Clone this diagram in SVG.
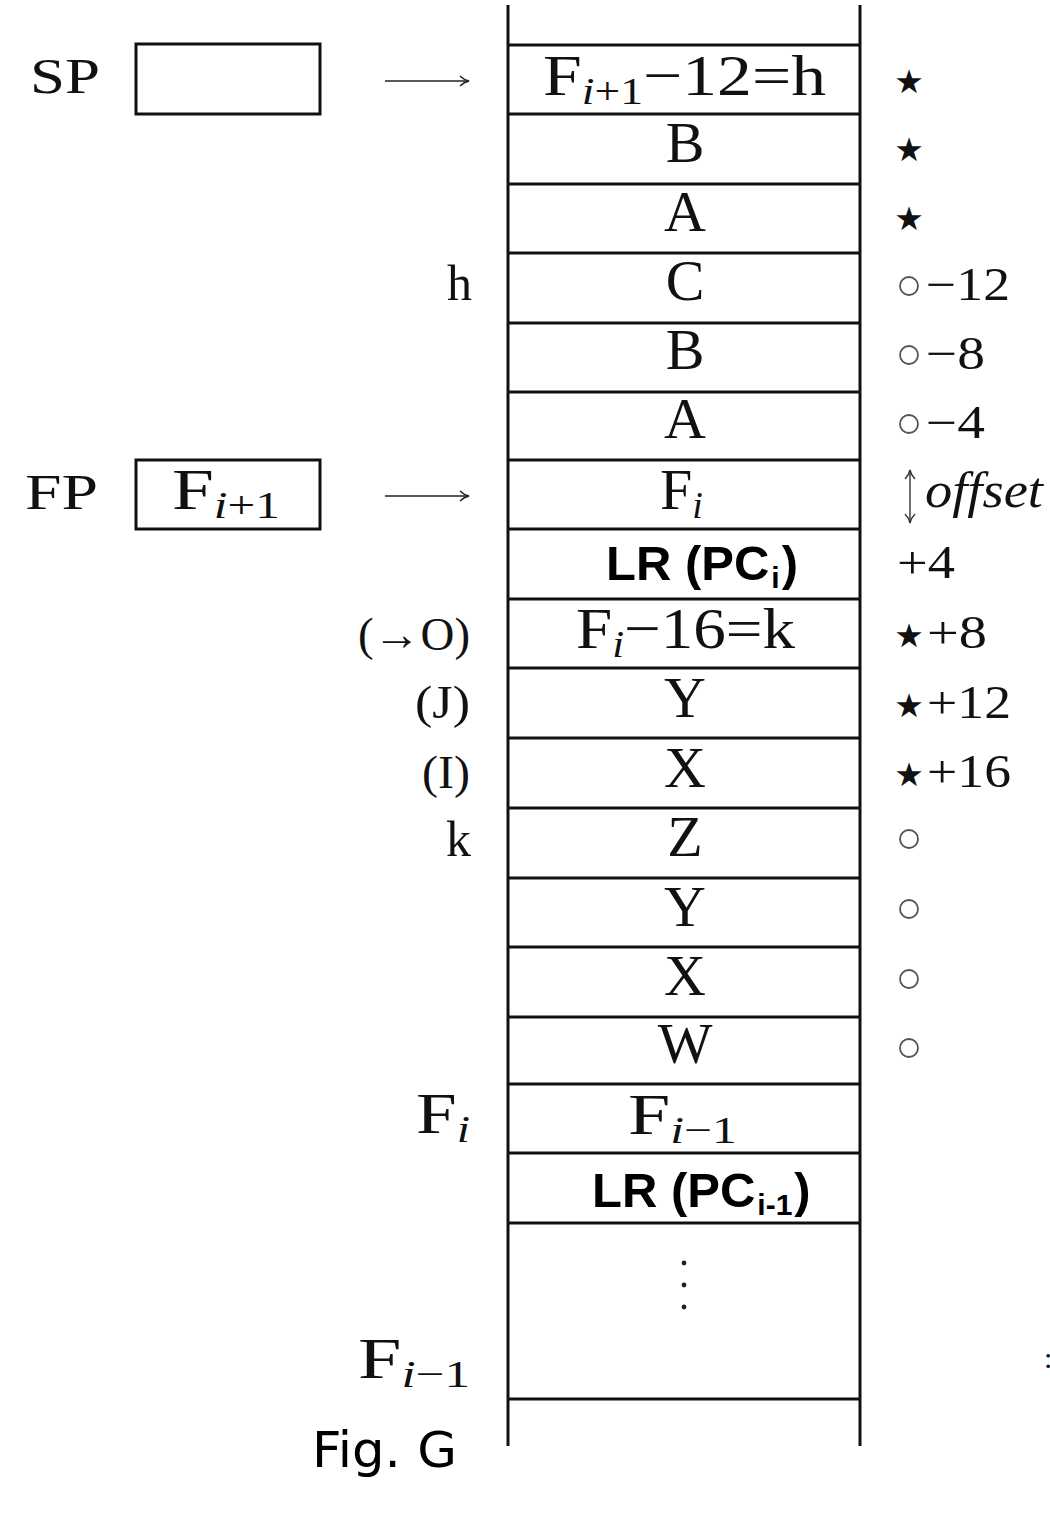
<svg xmlns="http://www.w3.org/2000/svg" width="1050" height="1524" viewBox="0 0 1050 1524">
<defs>
<style>
.bg{fill:#fff}
.ln{stroke:#111;stroke-width:3;fill:none}
.thin{stroke:#222;stroke-width:1.6;fill:none}
.cm{font-family:"Liberation Serif","Times New Roman",serif;fill:#111}
.cell{font-size:58px}
.lab{font-size:50px}
.rl{font-size:46px}
.sml{font-size:46px}
.sub{font-size:38px}
.it{font-style:italic}
.lr{font-family:"Liberation Sans",Arial,sans-serif;font-weight:bold;font-size:49px;fill:#000}
.lrsub{font-size:30px}
.star{font-family:"DejaVu Sans",sans-serif;font-size:33px;fill:#111;text-anchor:middle}
.circ{stroke:#555;stroke-width:1.8;fill:none}
.dot{fill:#222}
.fig{font-family:"DejaVu Sans",sans-serif;font-size:50px;fill:#000}
</style>
<marker id="ah" viewBox="0 0 12 12" refX="11" refY="6" markerWidth="12" markerHeight="12" markerUnits="userSpaceOnUse" orient="auto">
<path d="M2,1 Q6,5 11,6 Q6,7 2,11" fill="none" stroke="#222" stroke-width="1.5"/>
</marker>
<marker id="ahs" viewBox="0 0 12 12" refX="11" refY="6" markerWidth="12" markerHeight="12" markerUnits="userSpaceOnUse" orient="auto-start-reverse">
<path d="M2,1 Q6,5 11,6 Q6,7 2,11" fill="none" stroke="#333" stroke-width="1.4"/>
</marker>
</defs>
<rect class="bg" x="0" y="0" width="1050" height="1524"/>

<g id="registers">
<g id="sp">
<text class="cm lab" x="30" y="93" textLength="70" lengthAdjust="spacingAndGlyphs" font-size="56">SP</text>
<rect class="ln" x="136" y="44" width="184" height="70"/>
</g>
<g id="fp">
<text class="cm lab" x="25" y="509" textLength="73" lengthAdjust="spacingAndGlyphs" font-size="56">FP</text>
<rect class="ln" x="136" y="460" width="184" height="69"/>
<text class="cm cell" x="172" y="509" textLength="108" lengthAdjust="spacingAndGlyphs">F<tspan class="sub it" dy="9">i</tspan><tspan class="sub">+1</tspan></text>
</g>
</g>

<g id="stack">
<line class="ln" x1="508" y1="5" x2="508" y2="1446"/>
<line class="ln" x1="860" y1="5" x2="860" y2="1446"/>
<g id="row-h"><line class="ln" x1="508" y1="45" x2="860" y2="45"/>
<text class="cm cell" x="543" y="95" textLength="283" lengthAdjust="spacingAndGlyphs">F<tspan class="sub it" dy="9">i</tspan><tspan class="sub">+1</tspan><tspan dy="-9">−12=h</tspan></text></g>
<g id="row-b1"><line class="ln" x1="508" y1="114" x2="860" y2="114"/>
<text class="cm cell" x="685" y="162" text-anchor="middle">B</text></g>
<g id="row-a1"><line class="ln" x1="508" y1="184" x2="860" y2="184"/>
<text class="cm cell" x="685" y="231" text-anchor="middle">A</text></g>
<g id="row-c"><line class="ln" x1="508" y1="253" x2="860" y2="253"/>
<text class="cm cell" x="685" y="300" text-anchor="middle">C</text></g>
<g id="row-b2"><line class="ln" x1="508" y1="323" x2="860" y2="323"/>
<text class="cm cell" x="685" y="369" text-anchor="middle">B</text></g>
<g id="row-a2"><line class="ln" x1="508" y1="392" x2="860" y2="392"/>
<text class="cm cell" x="685" y="438" text-anchor="middle">A</text></g>
<g id="row-fi"><line class="ln" x1="508" y1="460" x2="860" y2="460"/>
<text class="cm cell" x="660" y="509">F<tspan class="sub it" dy="9">i</tspan></text></g>
<g id="row-lr"><line class="ln" x1="508" y1="529" x2="860" y2="529"/>
<text class="lr" x="606" y="580">LR (PC<tspan class="lrsub" dx="2" dy="8">i</tspan><tspan dx="2" dy="-8">)</tspan></text></g>
<g id="row-k"><line class="ln" x1="508" y1="599" x2="860" y2="599"/>
<text class="cm cell" x="576" y="648" textLength="219" lengthAdjust="spacingAndGlyphs">F<tspan class="sub it" dy="9">i</tspan><tspan dy="-9">−16=k</tspan></text></g>
<g id="row-y1"><line class="ln" x1="508" y1="668" x2="860" y2="668"/>
<text class="cm cell" x="685" y="717" text-anchor="middle">Y</text></g>
<g id="row-x1"><line class="ln" x1="508" y1="738" x2="860" y2="738"/>
<text class="cm cell" x="685" y="787" text-anchor="middle">X</text></g>
<g id="row-z"><line class="ln" x1="508" y1="808" x2="860" y2="808"/>
<text class="cm cell" x="685" y="856" text-anchor="middle">Z</text></g>
<g id="row-y2"><line class="ln" x1="508" y1="878" x2="860" y2="878"/>
<text class="cm cell" x="685" y="926" text-anchor="middle">Y</text></g>
<g id="row-x2"><line class="ln" x1="508" y1="947" x2="860" y2="947"/>
<text class="cm cell" x="685" y="995" text-anchor="middle">X</text></g>
<g id="row-w"><line class="ln" x1="508" y1="1017" x2="860" y2="1017"/>
<text class="cm cell" x="685" y="1063" text-anchor="middle">W</text></g>
<g id="row-fim1"><line class="ln" x1="508" y1="1084" x2="860" y2="1084"/>
<text class="cm cell" x="628" y="1134" textLength="109" lengthAdjust="spacingAndGlyphs">F<tspan class="sub it" dy="9">i</tspan><tspan class="sub">−1</tspan></text></g>
<g id="row-lr2"><line class="ln" x1="508" y1="1153" x2="860" y2="1153"/>
<text class="lr" x="592" y="1207">LR (PC<tspan class="lrsub" dx="2" dy="8">i-1</tspan><tspan dx="2" dy="-8">)</tspan></text></g>
<g id="row-dots"><line class="ln" x1="508" y1="1223" x2="860" y2="1223"/>
<circle class="dot" cx="684" cy="1263" r="2.4"/>
<circle class="dot" cx="684" cy="1285" r="2.4"/>
<circle class="dot" cx="684" cy="1307" r="2.4"/></g>
<g id="row-end"><line class="ln" x1="508" y1="1399" x2="860" y2="1399"/></g>
</g>

<g id="connectors">
<line class="thin" x1="385" y1="81" x2="469" y2="81" marker-end="url(#ah)"/>
<line class="thin" x1="385" y1="496" x2="469" y2="496" marker-end="url(#ah)"/>
</g>

<g id="left-labels">
<text class="cm lab" x="472" y="300" text-anchor="end">h</text>
<text class="cm sml" x="470" y="650" text-anchor="end" textLength="112" lengthAdjust="spacingAndGlyphs">(→O)</text>
<text class="cm sml" x="470" y="718" text-anchor="end" textLength="55" lengthAdjust="spacingAndGlyphs">(J)</text>
<text class="cm sml" x="470" y="788" text-anchor="end" textLength="48" lengthAdjust="spacingAndGlyphs">(I)</text>
<text class="cm lab" x="471" y="856" text-anchor="end">k</text>
<text class="cm cell" x="416" y="1133" textLength="54" lengthAdjust="spacingAndGlyphs">F<tspan class="sub it" dy="9">i</tspan></text>
<text class="cm cell" x="358" y="1378" textLength="112" lengthAdjust="spacingAndGlyphs">F<tspan class="sub it" dy="9">i</tspan><tspan class="sub">−1</tspan></text>
</g>

<g id="right-labels">
<text class="star" x="909" y="93">★</text>
<text class="star" x="909" y="161">★</text>
<text class="star" x="909" y="230">★</text>
<circle class="circ" cx="909" cy="286" r="9"/>
<text class="cm rl" x="926" y="300" textLength="84" lengthAdjust="spacingAndGlyphs">−12</text>
<circle class="circ" cx="909" cy="355" r="9"/>
<text class="cm rl" x="926" y="369" textLength="59" lengthAdjust="spacingAndGlyphs">−8</text>
<circle class="circ" cx="909" cy="424" r="9"/>
<text class="cm rl" x="926" y="438" textLength="59" lengthAdjust="spacingAndGlyphs">−4</text>
<line x1="910" y1="470" x2="910" y2="523" stroke="#333" stroke-width="1.4" marker-start="url(#ahs)" marker-end="url(#ahs)"/>
<text class="cm lab it" x="925" y="507" textLength="118" lengthAdjust="spacingAndGlyphs">offset</text>
<text class="cm rl" x="897" y="578" textLength="58" lengthAdjust="spacingAndGlyphs">+4</text>
<text class="star" x="909" y="647">★</text>
<text class="cm rl" x="927" y="648" textLength="60" lengthAdjust="spacingAndGlyphs">+8</text>
<text class="star" x="909" y="717">★</text>
<text class="cm rl" x="927" y="718" textLength="84" lengthAdjust="spacingAndGlyphs">+12</text>
<text class="star" x="909" y="786">★</text>
<text class="cm rl" x="927" y="787" textLength="84" lengthAdjust="spacingAndGlyphs">+16</text>
<circle class="circ" cx="909" cy="839" r="9"/>
<circle class="circ" cx="909" cy="909" r="9"/>
<circle class="circ" cx="909" cy="979" r="9"/>
<circle class="circ" cx="909" cy="1048" r="9"/>
<text class="cm" x="1044" y="1368" font-size="30">:</text>
</g>

<g id="caption">
<text class="fig" x="312" y="1467" textLength="145" lengthAdjust="spacingAndGlyphs">Fig. G</text>
</g>
</svg>
